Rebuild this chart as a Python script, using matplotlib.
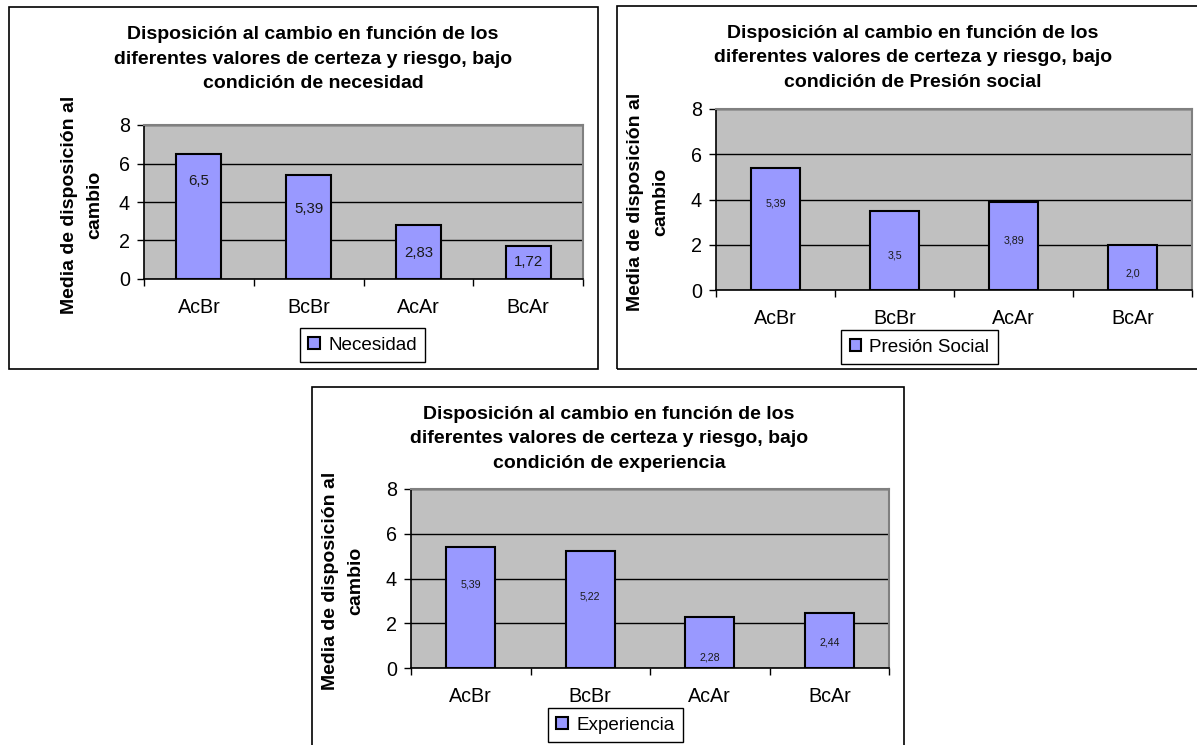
import matplotlib
matplotlib.use('Agg')
import matplotlib.pyplot as plt
import matplotlib.patches as mpatches

plt.rcParams['font.family'] = ['Liberation Sans', 'DejaVu Sans']

# ── Data ─────────────────────────────────────────────────────────────────────
categories  = ['AcBr', 'BcBr', 'AcAr', 'BcAr']
necesidad   = [6.5, 5.39, 2.83, 1.72]
presion     = [5.39, 3.5, 3.89, 2.0]
experiencia = [5.39, 5.22, 2.28, 2.44]

series_names = ['Necesidad', 'Presión Social', 'Experiencia']
conditions   = ['necesidad', 'Presión social', 'experiencia']

# ── Colours ──────────────────────────────────────────────────────────────────
BAR_FILL  = '#9999ff'
PLOT_BG   = '#c0c0c0'
FRAME_GRY = '#808080'

# ── Canvas (pixel layout helpers) ────────────────────────────────────────────
W, H = 1197, 745
fig = plt.figure(figsize=(W / 100, H / 100), dpi=100)
fig.patch.set_facecolor('white')


def fx(x):
    return x / W


def fy(y):
    return 1 - y / H


def frame_box(x0, y0, x1, y1):
    rect = mpatches.Rectangle((fx(x0), fy(y1)), fx(x1) - fx(x0), fy(y0) - fy(y1),
                              transform=fig.transFigure, fill=False,
                              edgecolor='black', lw=1.2, zorder=0)
    fig.patches.append(rect)


# where each of the three chart objects sits (pixels)
LAYOUT = [
    dict(box=(9, 7, 598, 369), plot=(144, 125, 583, 279), title=(313, 59),
         ylab=(82, 205), leg=(362.5, 345), lab_fs=10.8,
         lab_y=[5.09, 3.64, 1.35, 0.88]),
    dict(box=(617, 6, 1210, 369), plot=(716, 109, 1192, 290), title=(913, 58),
         ylab=(648, 202), leg=(919.5, 347), lab_fs=7.7,
         lab_y=[3.82, 1.53, 2.17, 0.75]),
    dict(box=(312, 387, 904, 760), plot=(411, 489, 889, 668), title=(609, 439),
         ylab=(343, 581), leg=(615.5, 725), lab_fs=7.7,
         lab_y=[3.73, 3.18, 0.46, 1.13]),
]

SERIES = [necesidad, presion, experiencia]

for values, name, cond, lay in zip(SERIES, series_names, conditions, LAYOUT):
    frame_box(*lay['box'])

    x0, y0, x1, y1 = lay['plot']
    ax = fig.add_axes([fx(x0), fy(y1), fx(x1) - fx(x0), fy(y0) - fy(y1)])
    ax.set_facecolor(PLOT_BG)

    xs = list(range(len(categories)))
    ax.bar(xs, values, width=0.41, color=BAR_FILL, edgecolor='black',
           lw=1.5, zorder=3, label=name)

    # value labels (positions dragged by hand in the original)
    for x, v, ly in zip(xs, values, lay['lab_y']):
        ax.text(x, ly, str(v).replace('.', ','), ha='center', va='center',
                fontsize=lay['lab_fs'], color='#1a1a1a', zorder=4)

    ax.set_xlim(-0.5, len(categories) - 0.5)
    ax.set_ylim(0, 8)
    ax.set_yticks([0, 2, 4, 6, 8])
    ax.yaxis.grid(True, color='black', lw=1)
    ax.set_axisbelow(True)

    # category axis: ticks on boundaries, labels in between
    ax.set_xticks([i - 0.5 for i in range(len(categories) + 1)])
    ax.set_xticklabels([])
    ax.set_xticks(xs, minor=True)
    ax.set_xticklabels(categories, minor=True)
    ax.tick_params(axis='x', which='major', length=5, width=1, direction='out')
    ax.tick_params(axis='x', which='minor', length=0, pad=14, labelsize=14.2)
    ax.tick_params(axis='y', length=5, width=1, direction='out', pad=5,
                   labelsize=14.2)

    for side in ('left', 'bottom'):
        ax.spines[side].set_color('black')
        ax.spines[side].set_linewidth(1.2)
    for side in ('top', 'right'):
        ax.spines[side].set_color(FRAME_GRY)
        ax.spines[side].set_linewidth(1.5)

    # title and axis title
    tx, ty = lay['title']
    fig.text(fx(tx), fy(ty),
             'Disposición al cambio en función de los\n'
             'diferentes valores de certeza y riesgo, bajo\n'
             f'condición de {cond}',
             ha='center', va='center', fontsize=14, fontweight='bold',
             linespacing=1.6)
    lx, ly = lay['ylab']
    fig.text(fx(lx), fy(ly), 'Media de disposición al\ncambio',
             rotation=90, ha='center', va='center', multialignment='center',
             fontsize=14, fontweight='bold', linespacing=1.6)

    cx, cy = lay['leg']
    leg = ax.legend(loc='center', bbox_to_anchor=(fx(cx), fy(cy)),
                    bbox_transform=fig.transFigure, fontsize=13.6,
                    frameon=True, fancybox=False, shadow=False, framealpha=1,
                    edgecolor='black', handlelength=0.6, handleheight=0.6,
                    handletextpad=0.45, borderpad=0.45)
    leg.get_frame().set_linewidth(1.0)

fig.savefig('out.png', dpi=100, facecolor='white')
plt.close(fig)
